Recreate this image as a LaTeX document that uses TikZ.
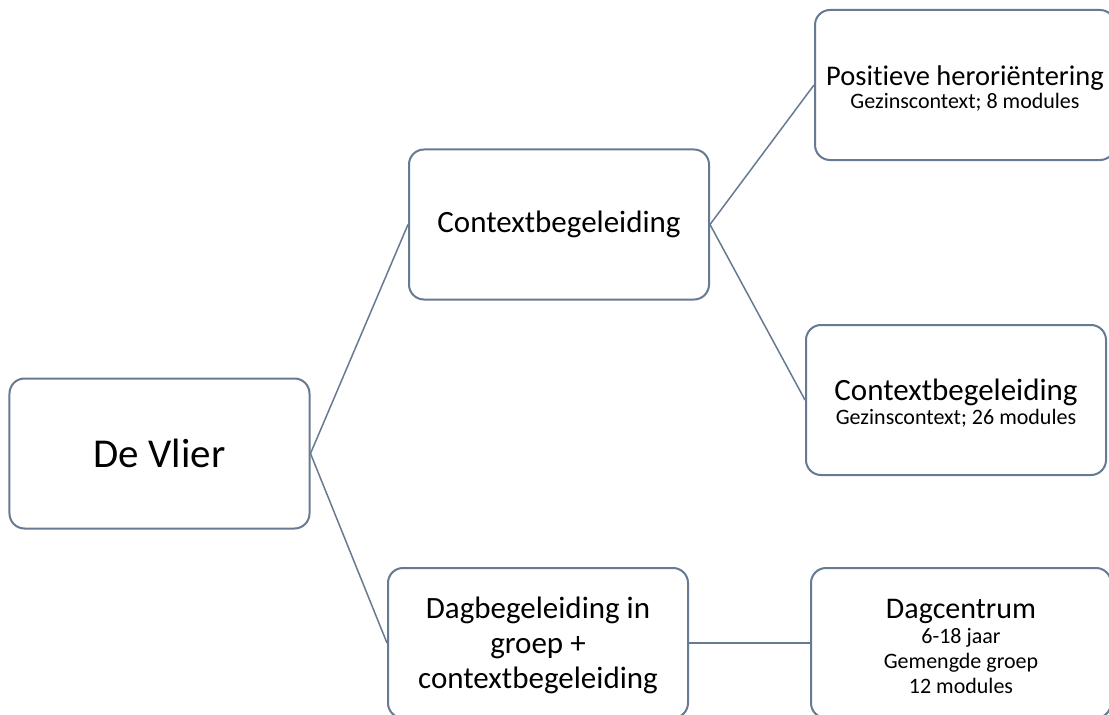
\documentclass[tikz,border=0pt]{standalone}
\usepackage{fontspec}
\setmainfont{Carlito}[RawFeature=-liga]
\definecolor{boxcol}{HTML}{667A91}
\tikzset{
  orgbox/.style={draw=boxcol, line width=2bp, rounded corners=15bp, fill=white,
    minimum width=300bp, minimum height=150bp, inner sep=0pt, align=center,
    text=black, font=\fontsize{31bp}{35bp}\selectfont},
  conn/.style={draw=boxcol, line width=1.5bp},
}
\begin{document}
\begin{tikzpicture}[x=1bp,y=-1bp]
\useasboundingbox (0,0) rectangle (1109,715);
\clip (0,0) rectangle (1109,715);
\node[orgbox, font=\fontsize{41bp}{48bp}\selectfont] (vlier) at (159.5,453.5) {De Vlier};
\node[orgbox] (ctx) at (559,224.5) {Contextbegeleiding};
\node[orgbox] (dag) at (538,643) {\rule{0pt}{27bp}Dagbegeleiding in\\groep +\\contextbegeleiding};
\node[orgbox, font=\fontsize{22bp}{23bp}\selectfont] (pos) at (965,85) {{\fontsize{28.5bp}{24bp}\selectfont \rule{0pt}{26bp}Positieve heroriëntering}\\Gezinscontext; 8 modules};
\node[orgbox, font=\fontsize{22bp}{24bp}\selectfont] (ctx2) at (956,400) {{\fontsize{31bp}{24bp}\selectfont \rule{0pt}{28bp}Contextbegeleiding}\\Gezinscontext; 26 modules};
\node[orgbox, font=\fontsize{22bp}{25bp}\selectfont] (centrum) at (961,643) {{\fontsize{30bp}{30bp}\selectfont \rule{0pt}{27bp}Dagcentrum}\\6-18 jaar\\Gemengde groep\\12 modules};
\draw[conn] (vlier.east) -- (ctx.west);
\draw[conn] (vlier.east) -- (dag.west);
\draw[conn] (ctx.east) -- (pos.west);
\draw[conn] (ctx.east) -- (ctx2.west);
\draw[conn] (dag.east) -- (centrum.west);
\end{tikzpicture}
\end{document}
